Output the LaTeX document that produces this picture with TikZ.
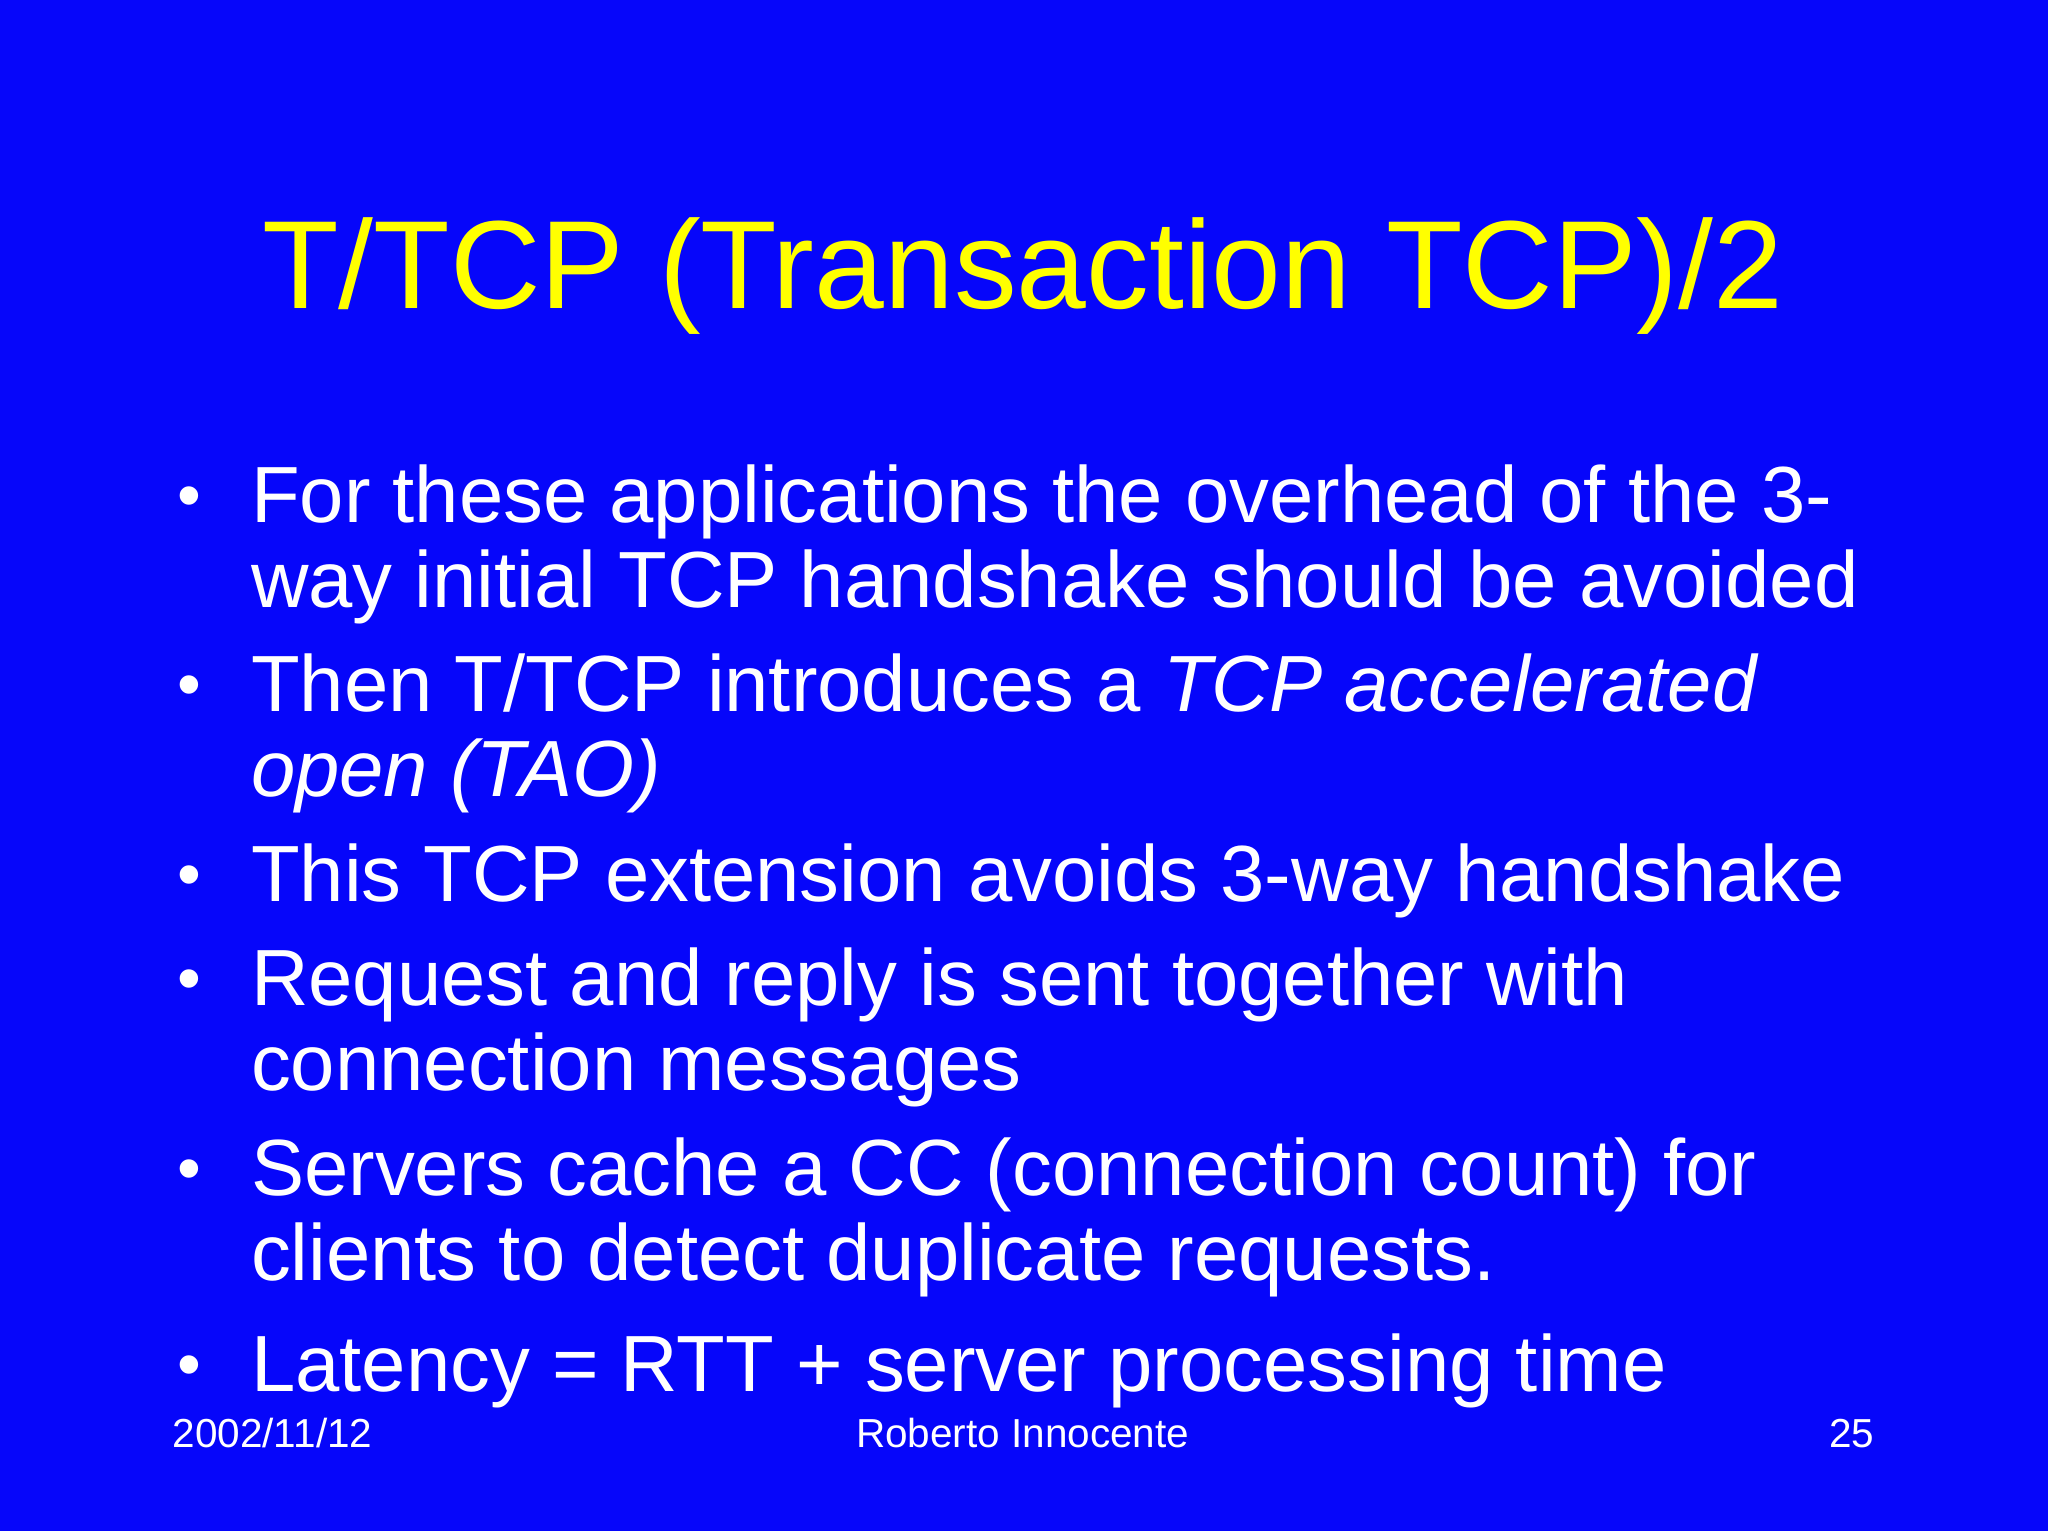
\documentclass[tikz,border=0pt]{standalone}
\usepackage{fontspec}
\setmainfont{Liberation Sans}
\definecolor{bg}{RGB}{6,6,250}
\definecolor{ttl}{RGB}{255,255,0}
\begin{document}
\begin{tikzpicture}[x=1pt,y=-1pt,
  txt/.style={anchor=base west,inner sep=0pt,text=white,font=\fontsize{61}{61}\selectfont},
  bul/.style={anchor=base,inner sep=0pt,text=white,font=\fontsize{52}{52}\selectfont},
  foot/.style={inner sep=0pt,text=white,font=\fontsize{31}{31}\selectfont}]
\fill[bg] (0,0) rectangle (1568,1172);
\useasboundingbox (0,0) rectangle (1568,1172);
\node[anchor=base,inner sep=0pt,text=ttl,font=\fontsize{96}{96}\selectfont] (title) at (783,236) {T/TCP (Transaction TCP)/2};
\foreach \y in {397,542,687,767,912,1062} \node[bul] at (145,\y) {•};
\node[txt] (l1) at (192,400) {For these applications the overhead of the 3-};
\node[txt] (l2) at (192,465) {way initial TCP handshake should be avoided};
\node[txt] (l3) at (192,545) {Then T/TCP introduces a \textit{TCP accelerated}};
\node[txt] (l4) at (192,610) {\textit{open (TAO)}};
\node[txt] (l5) at (192,690) {This TCP extension avoids 3-way handshake};
\node[txt] (l6) at (192,770) {Request and reply is sent together with};
\node[txt] (l7) at (192,835) {connection messages};
\node[txt] (l8) at (192,915) {Servers cache a CC (connection count) for};
\node[txt] (l9) at (192,980) {clients to detect duplicate requests.};
\node[txt] (l10) at (192,1065) {Latency = RTT + server processing time};
\node[foot,anchor=base west] (date) at (132,1108) {2002/11/12};
\node[foot,anchor=base] (auth) at (783,1108) {Roberto Innocente};
\node[foot,anchor=base east] (pg) at (1435,1108) {25};
\end{tikzpicture}
\end{document}
